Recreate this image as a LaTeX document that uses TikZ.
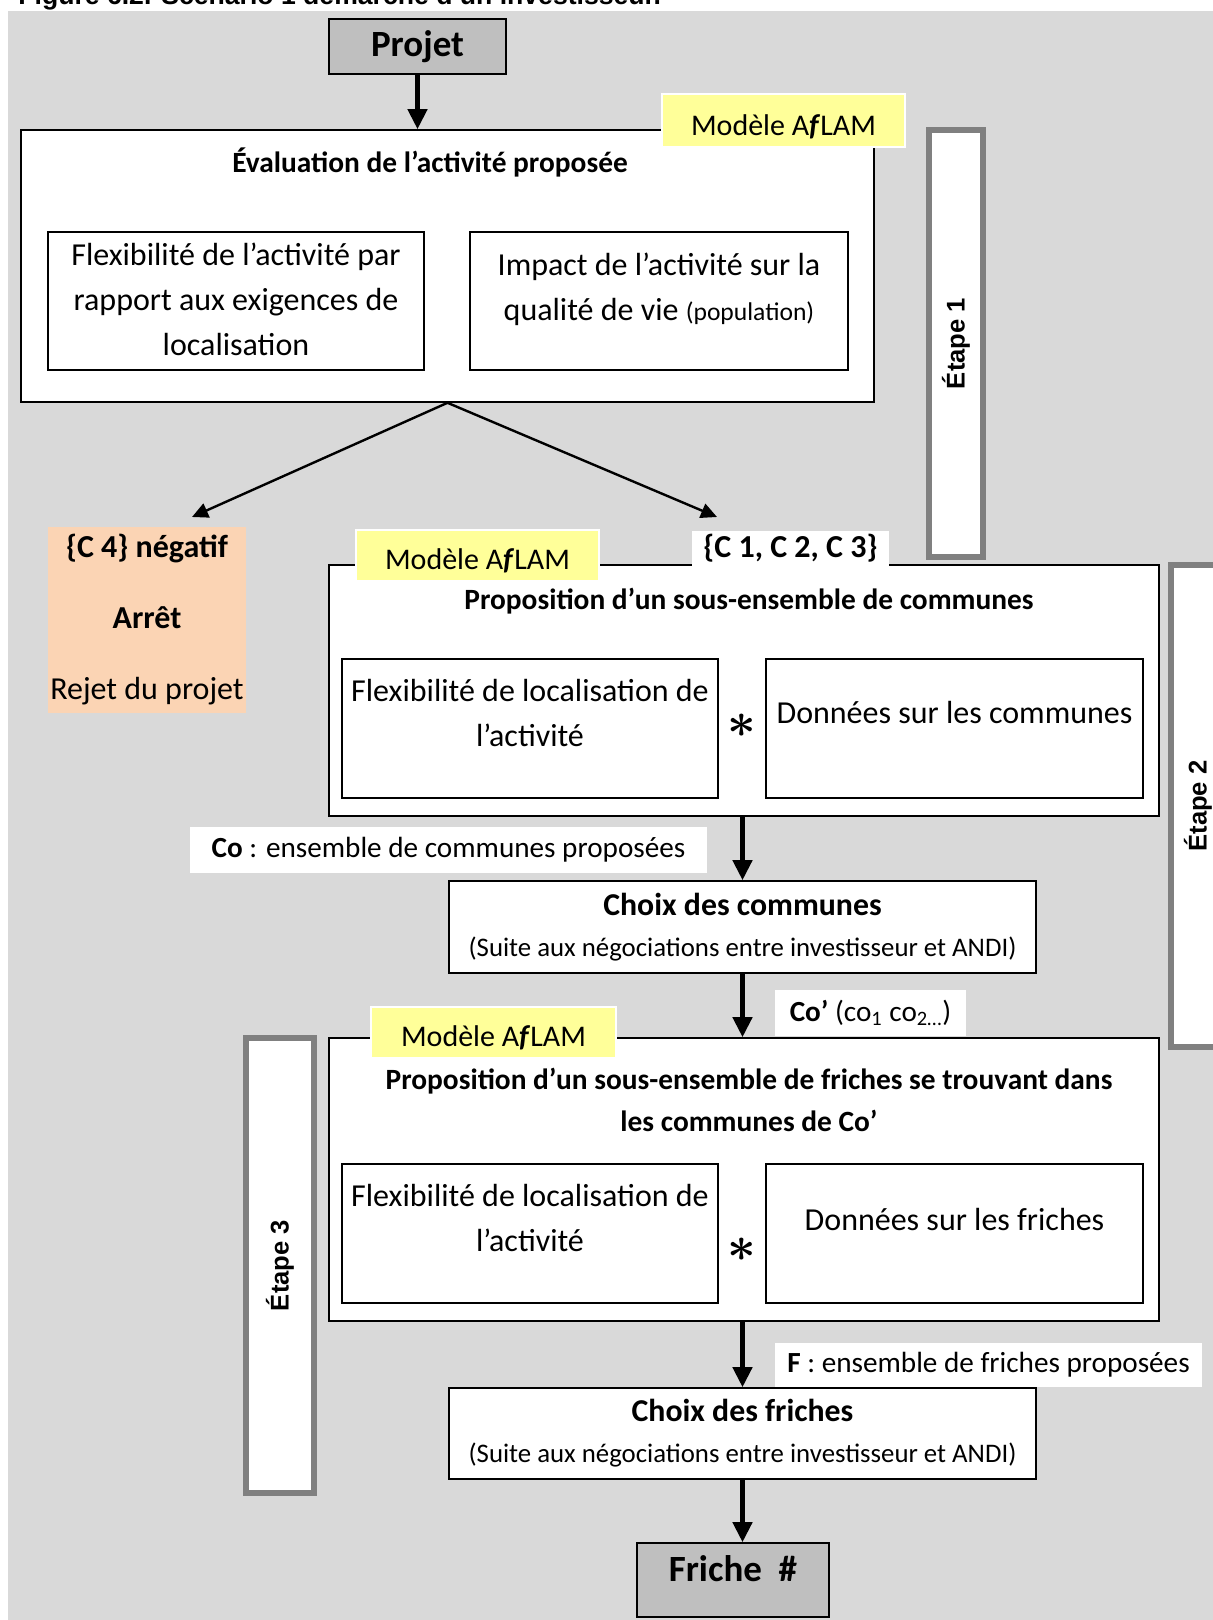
\documentclass[tikz,border=0pt]{standalone}
\usepackage{fontspec}
\setmainfont{Carlito}
\newfontfamily\arialfont{Liberation Sans}
\usetikzlibrary{arrows.meta}
\definecolor{bggray}{RGB}{217,217,217}
\definecolor{projgray}{RGB}{191,191,191}
\definecolor{etgray}{RGB}{128,128,128}
\definecolor{labyellow}{RGB}{255,255,153}
\definecolor{rejpeach}{RGB}{251,212,180}
\newdimen\pxu \pxu=0.5pt

\begin{document}
\begin{tikzpicture}[
        x=0.5pt, y=-0.5pt,
        box/.style={draw, line width=0.8pt, fill=white, inner sep=0pt},
        inbox/.style={draw, line width=0.8pt, inner sep=0pt},
        projbox/.style={draw, line width=0.8pt, fill=projgray, inner sep=0pt,
                    font=\fontsize{18.5}{20}\selectfont\bfseries},
        modlab/.style={draw=white, line width=1pt, fill=labyellow, inner sep=0pt,
                    text height=15.1pt, text depth=0.8pt,
                    font=\fontsize{15}{18}\selectfont},
        wlab/.style={fill=white, inner sep=0pt, font=\fontsize{14.6}{18}\selectfont},
        etape/.style={draw=etgray, line width=3pt, fill=white, rotate=90, inner sep=0pt,
                    font=\arialfont\bfseries\fontsize{12.8}{15}\selectfont},
        body/.style={align=center, inner sep=0pt, font=\fontsize{16}{22.5}\selectfont},
        btitle/.style={align=center, inner sep=0pt, font=\fontsize{14.7}{21}\selectfont\bfseries},
        choix/.style={box, align=center, font=\fontsize{13.4}{20.5}\selectfont},
        star/.style={inner sep=0pt, font=\fontsize{25}{25}\selectfont\boldmath},
        bigarrow/.style={-{Triangle[length=10pt,width=9.5pt]}, line width=2.2pt},
        thinarrow/.style={-{Triangle[length=8pt,width=7.5pt]}, line width=1.2pt}
      ]
        \useasboundingbox (0,0) rectangle (1213,1620);
        \fill[bggray] (8,11) rectangle (1230,1630);
        \node[anchor=base west, inner sep=0pt, font=\arialfont\bfseries\fontsize{13.3}{15}\selectfont]
            (figtitle) at (18,5) {Figure 6.2. Scénario 1 démarche d’un investisseur.};

        \node[projbox, minimum width=177\pxu, minimum height=55\pxu] (proj) at (417.5,46.5) {Projet};

        % Etape 1
        \node[box, minimum width=853\pxu, minimum height=272\pxu] (eval) at (447.5,266) {};
        \node[modlab, minimum width=243\pxu, minimum height=53\pxu] (modA) at (783.5,121) {Modèle A\textbf{\textit{f}}LAM};
        \node[btitle] (evaltitle) at (430,162) {Évaluation de l’activité proposée};
        \node[inbox, minimum width=376\pxu, minimum height=138\pxu] (flexA) at (236,301) {};
        \node[inbox, minimum width=378\pxu, minimum height=138\pxu] (impact) at (659,301) {};
        \node[body] (flexAtxt) at (236,299) {Flexibilité de l’activité par\\rapport aux exigences de\\localisation};
        \node[body] (impacttxt) at (659,289) {Impact de l’activité sur la\\qualité de vie {\fontsize{12.8}{15}\selectfont(population)}};
        \node[etape, minimum width=427\pxu, minimum height=54\pxu] (etA) at (956,343.5) {Étape 1};

        \node[fill=rejpeach, minimum width=198\pxu, minimum height=186\pxu, inner sep=0pt, align=center,
              font=\fontsize{16}{22}\selectfont] (rejet) at (147,620)
              {\textbf{\{C 4\} négatif}\\[13.5pt]\textbf{Arrêt}\\[13.5pt]Rejet du projet};
        \coordinate (rejtip) at (192,517);
        \coordinate (acctip) at (717,517);
        \draw[thinarrow] (eval.south) -- (rejtip);
        \draw[thinarrow] (eval.south) -- (acctip);

        % Etape 2
        \node[box, minimum width=830\pxu, minimum height=251\pxu] (comm) at (744,690.5) {};
        \node[modlab, minimum width=243\pxu, minimum height=51\pxu] (modB) at (477.5,555.5) {Modèle A\textbf{\textit{f}}LAM};
        \node[wlab, minimum width=197\pxu, minimum height=35\pxu, font=\fontsize{16}{18}\selectfont\bfseries]
            (accept) at (790.5,548.5) {\{C 1, C 2, C 3\}};
        \node[btitle] (commtitle) at (749,601) {Proposition d’un sous-ensemble de communes};
        \node[inbox, minimum width=376\pxu, minimum height=139\pxu] (flexB) at (530,728.5) {};
        \node[inbox, minimum width=377\pxu, minimum height=139\pxu] (donc) at (954.5,728.5) {};
        \node[body] (flexBtxt) at (530,713) {Flexibilité de localisation de\\l’activité};
        \node[body] (donctxt) at (954.5,713) {Données sur les communes};
        \node[star] (astB) at (742,726) {$\ast$};
        \node[etape, minimum width=482\pxu, minimum height=54\pxu] (etB) at (1198,806) {Étape 2};

        \node[wlab, minimum width=517\pxu, minimum height=46\pxu] (colab) at (448.5,850)
            {\textbf{Co} : ensemble de communes proposées};
        \node[choix, minimum width=587\pxu, minimum height=92\pxu] (choixA) at (742.5,927)
            {{\fontsize{15.9}{20.5}\selectfont\bfseries Choix des communes}\\(Suite aux négociations entre investisseur et ANDI)};
        \draw[bigarrow] (choixA.north |- comm.south) -- (choixA.north);
        \node[wlab, minimum width=191\pxu, minimum height=46\pxu] (coprime) at (870.5,1013)
            {\textbf{Co’} (co\textsubscript{1} co\textsubscript{2…})};

        % Etape 3
        \node[box, minimum width=830\pxu, minimum height=283\pxu] (fri) at (744,1179.5) {};
        \draw[bigarrow] (choixA.south) -- (choixA.south |- fri.north);
        \node[modlab, minimum width=245\pxu, minimum height=51\pxu] (modC) at (493.5,1032.5) {Modèle A\textbf{\textit{f}}LAM};
        \node[btitle] (frititle) at (749,1100) {Proposition d’un sous-ensemble de friches se trouvant dans\\les communes de Co’};
        \node[inbox, minimum width=376\pxu, minimum height=139\pxu] (flexC) at (530,1233.5) {};
        \node[inbox, minimum width=377\pxu, minimum height=139\pxu] (donf) at (954.5,1233.5) {};
        \node[body] (flexCtxt) at (530,1218) {Flexibilité de localisation de\\l’activité};
        \node[body] (donftxt) at (954.5,1219) {Données sur les friches};
        \node[star] (astC) at (742,1250) {$\ast$};
        \node[etape, minimum width=455\pxu, minimum height=68\pxu] (etC) at (280,1265.5) {Étape 3};

        \node[wlab, minimum width=427\pxu, minimum height=44\pxu] (flab) at (988.5,1365)
            {\textbf{F} : ensemble de friches proposées};
        \node[choix, minimum width=587\pxu, minimum height=91\pxu] (choixB) at (742.5,1433.5)
            {{\fontsize{15.9}{20.5}\selectfont\bfseries Choix des friches}\\(Suite aux négociations entre investisseur et ANDI)};
        \draw[bigarrow] (choixB.north |- fri.south) -- (choixB.north);

        \node[projbox, minimum width=192\pxu, minimum height=74\pxu] (friche) at (733,1580) {};
        \node[inner sep=0pt, font=\fontsize{18.5}{20}\selectfont\bfseries] (frichetxt) at (733,1569) {Friche\ \ \#};
        \draw[bigarrow] (choixB.south) -- (choixB.south |- friche.north);

        \draw[bigarrow] (proj.south) -- (proj.south |- eval.north);
      \end{tikzpicture}
\end{document}
